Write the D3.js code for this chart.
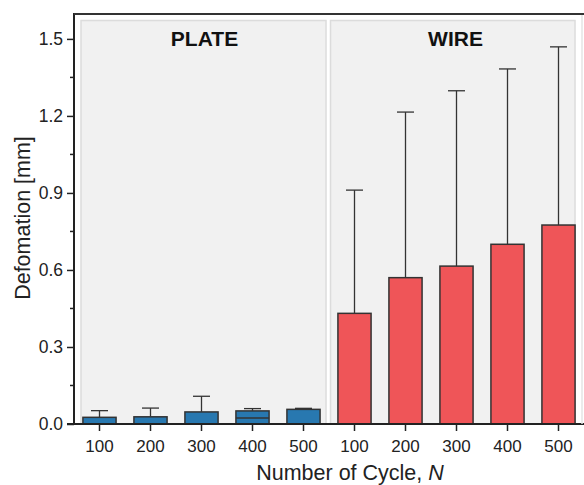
<!DOCTYPE html>
<html>
<head>
<meta charset="utf-8">
<script src="https://cdn.jsdelivr.net/npm/d3@7"></script>
<style>
  body { margin: 0; background: #fff; }
  svg { font-family: "Liberation Sans", Arial, sans-serif; }
</style>
</head>
<body>
<svg id="chart" width="584" height="485"></svg>
<script>
// Data
const cycles = ["100", "200", "300", "400", "500"];
const groups = ["PLATE", "WIRE"];
const plateMean = [0.026, 0.028, 0.047, 0.051, 0.057];
const plateErr = [0.026, 0.034, 0.061, 0.009, 0.004];
const plateErrMinus = [null, null, null, 0.028, null];
const wireMean = [0.431, 0.570, 0.615, 0.700, 0.775];
const wireErr = [0.480, 0.645, 0.683, 0.683, 0.694];
const yTicks = [0.0, 0.3, 0.6, 0.9, 1.2, 1.5];

const barColors = { PLATE: "#2878b0", WIRE: "#ef5558" };

// Rows built from arrays
const rows = [];
groups.forEach(g => {
  cycles.forEach((c, i) => {
    rows.push({
      group: g,
      cycle: c,
      key: g + "-" + c,
      mean: g === "PLATE" ? plateMean[i] : wireMean[i],
      err: g === "PLATE" ? plateErr[i] : wireErr[i],
      errMinus: g === "PLATE" ? plateErrMinus[i] : null
    });
  });
});

const svg = d3.select("#chart");
const margin = { left: 74, top: 14, bottom: 424, right: 584 };

const x = d3.scaleBand()
  .domain(rows.map(d => d.key))
  .range([margin.left, margin.right])
  .paddingInner(0.35)
  .paddingOuter(0.175);

const y = d3.scaleLinear().domain([0, 1.597]).range([margin.bottom, margin.top]);

// Group panels
const panelX = d3.scaleBand().domain(groups).range([margin.left, margin.right]);
svg.selectAll("rect.panel")
  .data(groups)
  .enter().append("rect")
  .attr("class", "panel")
  .attr("x", g => panelX(g) + (g === "PLATE" ? 7 : 1.5))
  .attr("y", 20.5)
  .attr("width", g => panelX.bandwidth() - (g === "PLATE" ? 10 : 10.5))
  .attr("height", margin.bottom - 20.5)
  .attr("fill", "#f1f1f1")
  .attr("stroke", "#dcdcdc")
  .attr("stroke-width", 1.5);

svg.selectAll("text.group")
  .data(groups)
  .enter().append("text")
  .attr("class", "group")
  .attr("x", g => panelX(g) + panelX.bandwidth() / 2 + (g === "PLATE" ? 3 : -1))
  .attr("y", 46)
  .attr("text-anchor", "middle")
  .attr("font-weight", "bold")
  .attr("font-size", 21)
  .attr("fill", "#111")
  .text(g => g);

// Error bars (drawn before bars so the stem starts at the bar top)
const eb = svg.append("g").attr("stroke", "#333").attr("stroke-width", 1.3);
const cx = d => x(d.key) + x.bandwidth() / 2;
eb.selectAll("line.stem")
  .data(rows)
  .enter().append("line")
  .attr("x1", cx).attr("x2", cx)
  .attr("y1", d => y(d.mean))
  .attr("y2", d => y(d.mean + d.err));
eb.selectAll("line.cap")
  .data(rows)
  .enter().append("line")
  .attr("x1", d => cx(d) - 8.5).attr("x2", d => cx(d) + 8.5)
  .attr("y1", d => y(d.mean + d.err))
  .attr("y2", d => y(d.mean + d.err));

// Bars
svg.append("g").selectAll("rect")
  .data(rows)
  .enter().append("rect")
  .attr("x", d => x(d.key))
  .attr("y", d => y(d.mean))
  .attr("width", x.bandwidth())
  .attr("height", d => y(0) - y(d.mean))
  .attr("fill", d => barColors[d.group])
  .attr("stroke", "#333")
  .attr("stroke-width", 1.5);

// lower caps (inside bar)
svg.append("g").selectAll("line")
  .data(rows.filter(d => d.errMinus != null))
  .enter().append("line")
  .attr("x1", d => x(d.key)).attr("x2", d => x(d.key) + x.bandwidth())
  .attr("y1", d => y(d.mean - d.errMinus))
  .attr("y2", d => y(d.mean - d.errMinus))
  .attr("stroke", "#333").attr("stroke-width", 1.5);

// Y axis
const yAxis = d3.axisLeft(y)
  .tickValues(yTicks)
  .tickFormat(d3.format(".1f"))
  .tickSize(7)
  .tickPadding(4);
const gy = svg.append("g").attr("transform", `translate(${margin.left},0)`).call(yAxis);
gy.select(".domain").remove();
gy.selectAll(".tick line").attr("stroke", "#222").attr("stroke-width", 1.5);
gy.selectAll(".tick text").attr("font-size", 17.5).attr("fill", "#222")
  .attr("font-family", "Liberation Sans, Arial, sans-serif");
// minor ticks
gy.selectAll("line.minor")
  .data(d3.range(0.15, 1.6, 0.3))
  .enter().append("line")
  .attr("class", "minor")
  .attr("x1", -4).attr("x2", 0)
  .attr("y1", d => y(d)).attr("y2", d => y(d))
  .attr("stroke", "#222").attr("stroke-width", 1.5);

// X axis
const xAxis = d3.axisBottom(x)
  .tickFormat(k => k.split("-")[1])
  .tickSize(7)
  .tickPadding(9);
const gx = svg.append("g").attr("transform", `translate(0,${margin.bottom})`).call(xAxis);
gx.select(".domain").remove();
gx.selectAll(".tick line").attr("stroke", "#222").attr("stroke-width", 1.5);
gx.selectAll(".tick text").attr("font-size", 17).attr("fill", "#222")
  .attr("font-family", "Liberation Sans, Arial, sans-serif");

// Frame lines
svg.append("line")
  .attr("x1", margin.left - 7).attr("x2", margin.right)
  .attr("y1", margin.bottom).attr("y2", margin.bottom)
  .attr("stroke", "#222").attr("stroke-width", 2);
svg.append("line")
  .attr("x1", margin.left).attr("x2", margin.left)
  .attr("y1", margin.top - 1).attr("y2", margin.bottom)
  .attr("stroke", "#222").attr("stroke-width", 2);
svg.append("line")
  .attr("x1", margin.left).attr("x2", margin.right)
  .attr("y1", margin.top).attr("y2", margin.top)
  .attr("stroke", "#333").attr("stroke-width", 2);
svg.append("line")
  .attr("x1", 582).attr("x2", 582)
  .attr("y1", margin.top + 1).attr("y2", margin.bottom)
  .attr("stroke", "#e4e4e4").attr("stroke-width", 1.5);

// Axis titles
svg.append("text")
  .attr("transform", "translate(30,218) rotate(-90)")
  .attr("text-anchor", "middle")
  .attr("font-size", 21.5)
  .attr("fill", "#222")
  .text("Defomation [mm]");

const xt = svg.append("text")
  .attr("x", 350)
  .attr("y", 480)
  .attr("text-anchor", "middle")
  .attr("font-size", 21.5)
  .attr("fill", "#222");
xt.append("tspan").text("Number of Cycle, ");
xt.append("tspan").attr("font-style", "italic").text("N");
</script>
</body>
</html>
